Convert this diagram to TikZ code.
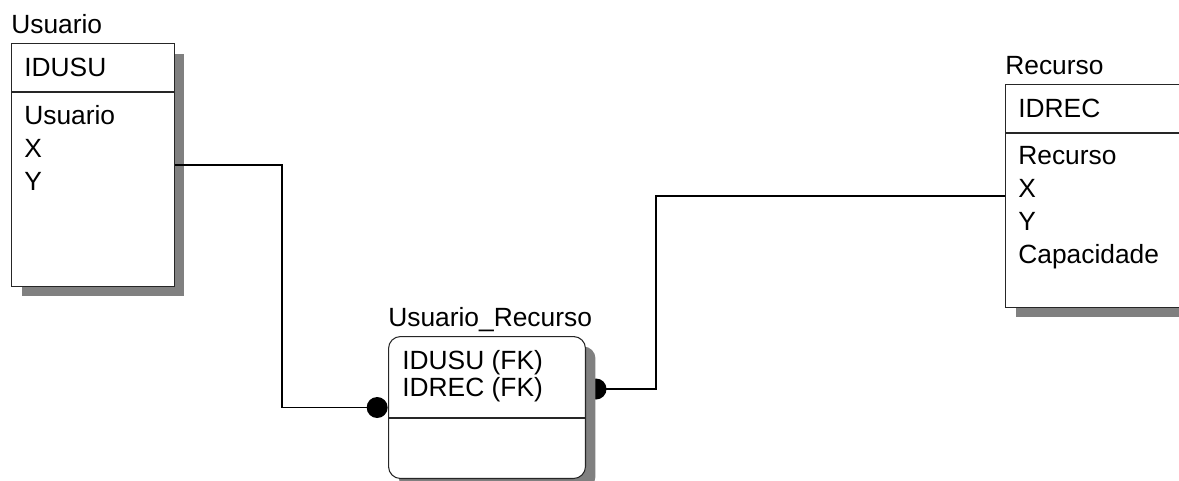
\documentclass[tikz,border=0pt]{standalone}
\usepackage{fontspec}
\setmainfont{Liberation Sans}
\usetikzlibrary{positioning,calc,shadows}

\begin{document}
\begin{tikzpicture}[
x=0.02cm, y=-0.02cm,
font=\fontsize{15}{18.8}\selectfont,
entity/.style={
draw=black!85,
line width=0.6pt,
fill=white,
anchor=north west,
inner sep=0pt,
drop shadow={shadow xshift=0.2cm, shadow yshift=-0.2cm, fill=black!50, opacity=1}
},
title/.style={anchor=base west, inner sep=0pt},
key/.style={anchor=base west, inner sep=0pt},
attr/.style={anchor=north west, align=left, inner sep=0pt},
divider/.style={draw=black!85, line width=0.6pt},
dot/.style={circle, fill=black, inner sep=0pt, minimum size=0.42cm},
rel/.style={draw=black, line width=0.6pt}
]

\useasboundingbox (0,0) rectangle (1179,480);
\clip (0,0) rectangle (1179,480);

\node[entity, minimum width=3.26cm, minimum height=4.86cm] (usuario) at (11,43) {};
\node[title] (usuariotitle) at ($(usuario.north west)+(0,-10)$) {Usuario};
\node[key] (usuariokey) at ($(usuario.north west)+(13,33)$) {IDUSU};
\draw[divider] ($(usuario.north west)+(0,49)$) -- ($(usuario.north east)+(0,49)$);
\node[attr] (usuarioattr) at ($(usuario.north west)+(13,62)$) {Usuario\\X\\Y};

\node[entity, minimum width=4.2cm, minimum height=4.46cm] (recurso) at (1005,84) {};
\node[title] (recursotitle) at ($(recurso.north west)+(0,-10)$) {Recurso};
\node[key] (recursokey) at ($(recurso.north west)+(13,33)$) {IDREC};
\draw[divider] ($(recurso.north west)+(0,49)$) -- ($(recurso.north east)+(0,49)$);
\node[attr] (recursoattr) at ($(recurso.north west)+(13,62)$) {Recurso\\X\\Y\\Capacidade};

\node[dot] (dotr) at (596,389) {};
\coordinate (kinkr) at (656,300);
\draw[rel] (dotr.center) -- (dotr -| kinkr) -- (kinkr |- recurso.west) -- (recurso.west);

\node[entity, rounded corners=0.24cm, minimum width=3.94cm, minimum height=2.84cm] (usurec) at (388,336) {};
\node[title] (usurectitle) at ($(usurec.north west)+(0,-10)$) {Usuario\_Recurso};
\node[attr, font=\fontsize{15}{15.6}\selectfont] (usurecattr) at ($(usurec.north west)+(14,14)$) {IDUSU (FK)\\IDREC (FK)};
\draw[divider] ($(usurec.north west)+(0,82)$) -- ($(usurec.north east)+(0,82)$);

\node[dot, left=0pt of usurec.west] (dotl) {};
\coordinate (kinkl) at (282,300);
\draw[rel] (usuario.east) -- (usuario.east -| kinkl) -- (kinkl |- dotl) -- (dotl.center);

\end{tikzpicture}
\end{document}
